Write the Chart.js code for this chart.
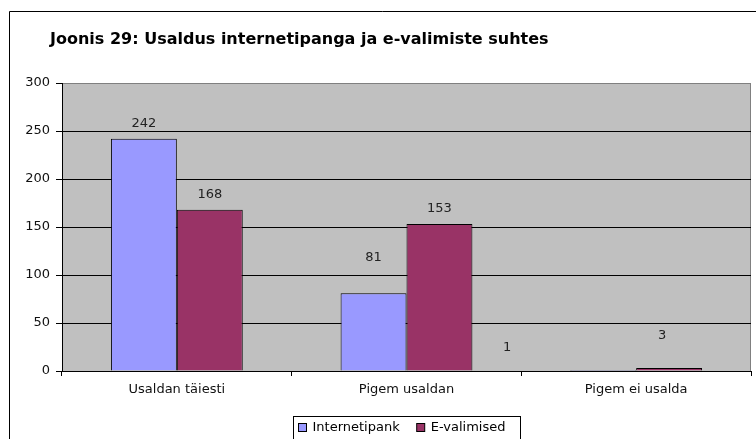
<!DOCTYPE html>
<html>
<head>
<meta charset="utf-8">
<script src="https://cdn.jsdelivr.net/npm/chart.js@4"></script>
<style>
  html, body { margin: 0; padding: 0; background: #fff; }
  #wrap { position: relative; width: 756px; height: 439px; }
</style>
</head>
<body>
<div id="wrap"><canvas id="trustChart" width="756" height="439"></canvas></div>
<script>
const title = 'Joonis 29: Usaldus internetipanga ja e-valimiste suhtes'
const categories = ['Usaldan täiesti', 'Pigem usaldan', 'Pigem ei usalda']
const seriesNames = ['Internetipank', 'E-valimised']
const internetipank = [242, 81, 1]
const eValimised = [168, 153, 3]
const yTicks = [0, 50, 100, 150, 200, 250, 300]

const FONT = '"DejaVu Sans", Verdana, sans-serif'

// the frame, plot background, title and boxed legend, drawn like the old Excel chart
const frame = {
    id: 'frame',
    beforeDraw(chart) {
        const ctx = chart.ctx
        const a = chart.chartArea
        ctx.save()
        ctx.fillStyle = '#fff'
        ctx.fillRect(0, 0, chart.width, chart.height)
        ctx.strokeStyle = '#000'
        ctx.lineWidth = 1
        ctx.beginPath()
        ctx.moveTo(9.5, chart.height)
        ctx.lineTo(9.5, 11.5)
        ctx.lineTo(chart.width, 11.5)
        ctx.stroke()
        ctx.fillStyle = '#c0c0c0'
        ctx.fillRect(a.left, a.top, a.right - a.left, a.bottom - a.top)
        ctx.strokeStyle = '#808080'
        ctx.strokeRect(a.left + 0.5, a.top + 0.5, a.right - a.left - 1, a.bottom - a.top)
        ctx.fillStyle = '#000'
        ctx.font = 'bold 16px ' + FONT
        ctx.textBaseline = 'middle'
        ctx.textAlign = 'left'
        ctx.fillText(title, 50, 40)
        ctx.restore()
    },
    afterDraw(chart) {
        const ctx = chart.ctx
        const a = chart.chartArea
        ctx.save()
        ctx.font = '13px ' + FONT
        const items = chart.data.datasets.map(ds => ({ label: ds.label, color: ds.backgroundColor, w: ctx.measureText(ds.label).width }))
        const inner = items.reduce((s, it) => s + 8 + 6 + it.w, 0) + 17 * (items.length - 1)
        const boxW = Math.round(inner + 20)
        const cx = (a.left + a.right) / 2
        const boxL = Math.round(cx - boxW / 2) + 0.5
        const boxT = 416.5
        ctx.strokeStyle = '#000'
        ctx.lineWidth = 1
        ctx.strokeRect(boxL, boxT, boxW, 40)
        let x = boxL + 5
        ctx.textBaseline = 'middle'
        ctx.textAlign = 'left'
        items.forEach(it => {
            ctx.fillStyle = it.color
            ctx.fillRect(x, 423.5, 8, 8)
            ctx.strokeRect(x, 423.5, 8, 8)
            ctx.fillStyle = '#000'
            ctx.fillText(it.label, x + 14, 428)
            x += 8 + 6 + it.w + 17
        })
        ctx.restore()
    }
}

// value labels above the bars; a few were dragged in the original so they get nudges
const valueLabels = {
    id: 'valueLabels',
    afterDatasetsDraw(chart, args, opts) {
        const ctx = chart.ctx
        ctx.save()
        ctx.font = '13px ' + FONT
        ctx.fillStyle = '#222'
        ctx.textAlign = 'center'
        ctx.textBaseline = 'middle'
        chart.data.datasets.forEach((ds, i) => {
            chart.getDatasetMeta(i).data.forEach((bar, j) => {
                const nudge = (opts.nudges[i] || [])[j] || [0, 0]
                ctx.fillText(String(ds.data[j]), bar.x + nudge[0], bar.y - 15 + nudge[1])
            })
        })
        ctx.restore()
    }
}

new Chart(document.getElementById('trustChart'), {
    type: 'bar',
    data: {
        labels: categories,
        datasets: [
            { label: seriesNames[0], data: internetipank, backgroundColor: '#9999ff', borderColor: '#000', borderWidth: 1 },
            { label: seriesNames[1], data: eValimised, backgroundColor: '#993366', borderColor: '#000', borderWidth: 1 }
        ]
    },
    options: {
        responsive: false,
        animation: false,
        events: [],
        layout: { padding: { top: 83, right: 5, left: 0, bottom: 0 } },
        datasets: { bar: { categoryPercentage: 0.574, barPercentage: 1 } },
        plugins: {
            legend: { display: false },
            title: { display: false },
            tooltip: { enabled: false },
            valueLabels: { nudges: [[[0, 0], [0, -21], [-96, -7]], [[0, 0], [0, 0], [-7, -17]]] }
        },
        scales: {
            x: {
                afterFit(scale) { scale.height = 68 },
                grid: { drawOnChartArea: false, drawTicks: true, tickLength: 5, tickColor: '#000', offset: true },
                border: { display: true, color: '#000', width: 1 },
                ticks: { color: '#111', padding: 6, font: { family: FONT, size: 13 }, maxRotation: 0 }
            },
            y: {
                min: 0,
                max: 300,
                afterFit(scale) { scale.width = 62 },
                afterBuildTicks(scale) { scale.ticks = yTicks.map(v => ({ value: v })) },
                grid: {
                    color: c => c.tick && c.tick.value === 300 ? '#808080' : '#000',
                    tickColor: '#000',
                    tickLength: 6,
                    lineWidth: 1
                },
                border: { display: true, color: '#000', width: 1 },
                ticks: { color: '#111', padding: 6, font: { family: FONT, size: 13 } }
            }
        }
    },
    plugins: [frame, valueLabels]
})
</script>
</body>
</html>
